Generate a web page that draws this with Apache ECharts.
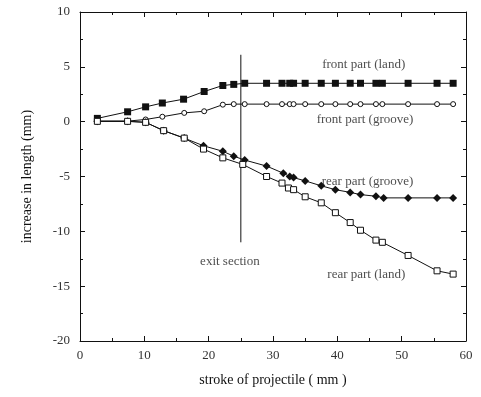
<!DOCTYPE html>
<html><head><meta charset="utf-8">
<script src="https://cdn.jsdelivr.net/npm/echarts@6/dist/echarts.min.js"></script>
<style>html,body{margin:0;padding:0;background:#fff}#c{width:481px;height:397px}</style>
</head><body><div id="c"></div>
<script>
// stroke (mm) and increase in length (mm)
var frontLandX   = [2.7, 7.4, 10.2, 12.8, 16.1, 19.3, 22.2, 23.9, 25.6, 29.0, 31.4, 32.6, 33.2, 35.0, 37.5, 39.7, 42.0, 43.6, 46.0, 47.0, 51.0, 55.5, 58.0];
var frontLandY   = [0.3, 0.9, 1.35, 1.7, 2.05, 2.75, 3.3, 3.4, 3.5, 3.5, 3.5, 3.5, 3.5, 3.5, 3.5, 3.5, 3.5, 3.5, 3.5, 3.5, 3.5, 3.5, 3.5];
var frontGrooveX = [2.7, 7.4, 10.2, 12.8, 16.2, 19.3, 22.2, 23.9, 25.6, 29.0, 31.4, 32.6, 33.2, 35.0, 37.5, 39.7, 42.0, 43.6, 46.0, 47.0, 51.0, 55.5, 58.0];
var frontGrooveY = [0.05, 0.05, 0.2, 0.45, 0.8, 0.95, 1.55, 1.6, 1.6, 1.6, 1.6, 1.6, 1.6, 1.6, 1.6, 1.6, 1.6, 1.6, 1.6, 1.6, 1.6, 1.6, 1.6];
var rearGrooveX  = [2.7, 7.4, 10.2, 13.0, 16.2, 19.2, 22.2, 23.9, 25.6, 29.0, 31.6, 32.6, 33.2, 35.0, 37.5, 39.7, 42.0, 43.6, 46.0, 47.2, 51.0, 55.5, 58.0];
var rearGrooveY  = [0.03, 0.03, -0.06, -0.82, -1.5, -2.2, -2.7, -3.15, -3.5, -4.05, -4.7, -5.0, -5.1, -5.4, -5.85, -6.2, -6.45, -6.65, -6.8, -6.95, -6.95, -6.95, -6.95];
var rearLandX    = [2.7, 7.4, 10.2, 13.0, 16.2, 19.2, 22.2, 25.3, 29.0, 31.4, 32.4, 33.2, 35.0, 37.5, 39.7, 42.0, 43.6, 46.0, 47.0, 51.0, 55.5, 58.0];
var rearLandY    = [0.03, 0.03, -0.06, -0.82, -1.5, -2.5, -3.3, -3.9, -5.0, -5.6, -6.05, -6.2, -6.85, -7.4, -8.3, -9.2, -9.9, -10.8, -11.0, -12.2, -13.6, -13.9];
var exitLineX = [25, 25];
var exitLineY = [6.1, -11];
var labelTexts = ['front part (land)', 'front part (groove)', 'rear part (groove)', 'exit section', 'rear part (land)'];
var labelX = [44.1, 44.3, 44.7, 23.3, 44.5];
var labelY = [5.2, 0.2, -5.45, -12.8, -13.9];
var xTicks = [0, 10, 20, 30, 40, 50, 60];
var yTicks = [10, 5, 0, -5, -10, -15, -20];

function pairs(xs, ys) { return xs.map(function (x, i) { return [x, ys[i]]; }); }
var FONT = 'Liberation Serif';
var black = '#111';

function lineSeries(xs, ys, symbol, size, hollow) {
  return {
    type: 'line', data: pairs(xs, ys), symbol: symbol, symbolSize: size,
    lineStyle: { color: black, width: 1 },
    itemStyle: hollow ? { color: '#fff', borderColor: black, borderWidth: 1 } : { color: black, borderColor: black, borderWidth: 0 },
    showAllSymbol: true, animation: false, z: 3
  };
}

var chart = echarts.init(document.getElementById('c'), null, { renderer: 'canvas' });
var axisCommon = {
  axisLine: { show: true, onZero: false, lineStyle: { color: black, width: 1 } },
  axisTick: { show: true, inside: true, length: 5, lineStyle: { color: black } },
  minorTick: { show: true, splitNumber: 2, length: 3, lineStyle: { color: black } },
  splitLine: { show: false }
};
chart.setOption({
  animation: false,
  backgroundColor: '#fff',
  grid: { left: 80, right: 15, top: 12, bottom: 56 },
  xAxis: [
    Object.assign({ type: 'value', min: 0, max: 60, interval: 10, position: 'bottom',
      name: 'stroke of projectile ( mm )', nameLocation: 'middle', nameGap: 32,
      nameTextStyle: { fontFamily: FONT, fontSize: 14, color: black },
      axisLabel: { fontFamily: FONT, fontSize: 13, color: '#333', margin: 8,
        formatter: function (v) { return xTicks.indexOf(v) >= 0 ? String(v) : ''; } } }, axisCommon),
    Object.assign({ type: 'value', min: 0, max: 60, interval: 10, position: 'top',
      axisLabel: { show: false } }, axisCommon)
  ],
  yAxis: [
    Object.assign({ type: 'value', min: -20, max: 10, interval: 5, position: 'left',
      name: 'increase in length (mm)', nameLocation: 'middle', nameGap: 46, nameRotate: 90,
      nameTextStyle: { fontFamily: FONT, fontSize: 14, color: black },
      axisLabel: { fontFamily: FONT, fontSize: 13, color: '#333', margin: 10,
        formatter: function (v) { return yTicks.indexOf(v) >= 0 ? String(v) : ''; } } }, axisCommon),
    Object.assign({ type: 'value', min: -20, max: 10, interval: 5, position: 'right',
      axisLabel: { show: false } }, axisCommon)
  ],
  series: [
    lineSeries(frontLandX, frontLandY, 'rect', 7, false),
    lineSeries(frontGrooveX, frontGrooveY, 'circle', 5, true),
    lineSeries(rearGrooveX, rearGrooveY, 'diamond', 8, false),
    lineSeries(rearLandX, rearLandY, 'rect', 6, true),
    { type: 'line', data: pairs(exitLineX, exitLineY), symbol: 'none',
      lineStyle: { color: black, width: 1 }, z: 2 },
    { type: 'scatter', symbolSize: 0, z: 4,
      data: labelTexts.map(function (t, i) { return { value: [labelX[i], labelY[i]], name: t }; }),
      label: { show: true, position: 'inside', formatter: function (p) { return p.name; },
        fontFamily: FONT, fontSize: 13, color: '#222' } }
  ]
});
</script></body></html>
